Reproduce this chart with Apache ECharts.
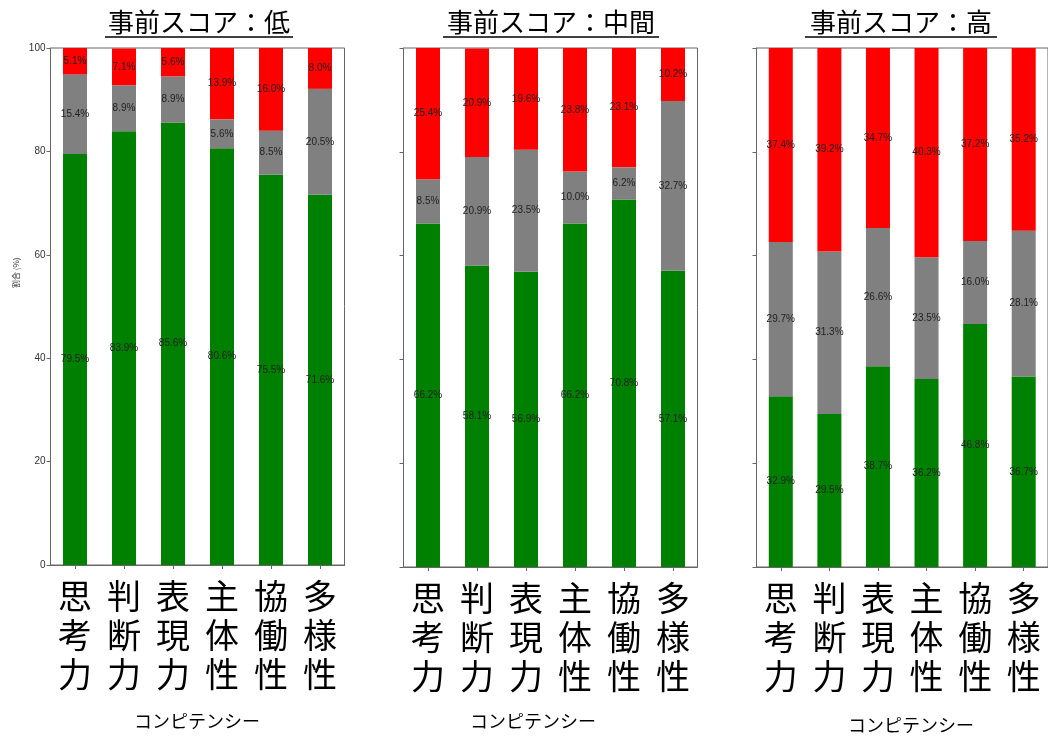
<!DOCTYPE html>
<html>
<head>
<meta charset="utf-8">
<script src="https://cdn.jsdelivr.net/npm/echarts@6/dist/echarts.min.js"></script>
<style>
html,body{margin:0;padding:0;background:#fff;}
#c{width:1048px;height:736px;}
</style>
</head>
<body>
<div id="c"></div>
<script>
const categories = ['思考力', '判断力', '表現力', '主体性', '協働性', '多様性'];
const panelTitles = ['事前スコア：低', '事前スコア：中間', '事前スコア：高'];
const xAxisTitle = 'コンピテンシー';
const yAxisTitle = '割合 (%)';
const yTicks = [0, 20, 40, 60, 80, 100];

const lowGreen = [79.5, 83.9, 85.6, 80.6, 75.5, 71.6];
const lowGray  = [15.4, 8.9, 8.9, 5.6, 8.5, 20.5];
const lowRed   = [5.1, 7.1, 5.6, 13.9, 16.0, 8.0];

const midGreen = [66.2, 58.1, 56.9, 66.2, 70.8, 57.1];
const midGray  = [8.5, 20.9, 23.5, 10.0, 6.2, 32.7];
const midRed   = [25.4, 20.9, 19.6, 23.8, 23.1, 10.2];

const highGreen = [32.9, 29.5, 38.7, 36.2, 46.8, 36.7];
const highGray  = [29.7, 31.3, 26.6, 23.5, 16.0, 28.1];
const highRed   = [37.4, 39.2, 34.7, 40.3, 37.2, 35.2];

const panels = [
  [lowGreen, lowGray, lowRed],
  [midGreen, midGray, midRed],
  [highGreen, highGray, highRed]
];
const colors = ['#008000', '#808080', '#ff0000'];

const gridLefts = [50.5, 403.5, 756.5];
const gridHeights = [517, 519, 519];
const titleCenters = [199, 551, 901];
const titleHalfWidths = [94, 108, 96];
const xNameCenters = [197, 533, 911];
const xNameTops = [712, 712, 716];

const chart = echarts.init(document.getElementById('c'), null, {renderer: 'canvas'});

const grid = [], xAxis = [], yAxis = [], series = [], graphic = [];
panels.forEach((p, i) => {
  grid.push({left: gridLefts[i], top: 48, width: 294, height: gridHeights[i],
    show: true, borderColor: '#666', borderWidth: 1, backgroundColor: 'transparent'});
  xAxis.push({type: 'category', gridIndex: i, data: categories,
    axisLine: {show: true, lineStyle: {color: '#666'}},
    axisTick: {show: true, alignWithLabel: true, length: 4, lineStyle: {color: '#666'}},
    axisLabel: {
      formatter: v => v.split('').join('\n'),
      fontFamily: 'Noto Sans CJK JP', fontSize: 34, lineHeight: 39, color: '#000', margin: 12,
      interval: 0
    }
  });
  yAxis.push({type: 'value', gridIndex: i, min: yTicks[0], max: yTicks[yTicks.length - 1], interval: 20,
    axisLine: {show: true, lineStyle: {color: '#666'}},
    axisTick: {show: true, length: 4, lineStyle: {color: '#666'}},
    splitLine: {show: false},
    axisLabel: {show: i === 0, fontSize: 10, color: '#333', fontFamily: 'Liberation Sans', margin: 5}
  });
  p.forEach((vals, k) => {
    series.push({
      type: 'bar', xAxisIndex: i, yAxisIndex: i, stack: 'p' + i,
      data: vals, barWidth: 24,
      itemStyle: {color: colors[k]},
      label: {show: true, position: 'inside', formatter: d => d.value.toFixed(1) + '%',
        color: '#222', fontSize: 10, fontFamily: 'Liberation Sans'}
    });
  });
  graphic.push({type: 'text', x: titleCenters[i], y: 9,
    style: {text: panelTitles[i], fill: '#000', font: '26px "Noto Sans CJK JP"', textAlign: 'center'}});
  graphic.push({type: 'line', shape: {x1: titleCenters[i] - titleHalfWidths[i], y1: 37, x2: titleCenters[i] + titleHalfWidths[i], y2: 37},
    style: {stroke: '#000', lineWidth: 1.5}});
  graphic.push({type: 'text', x: xNameCenters[i], y: xNameTops[i],
    style: {text: xAxisTitle, fill: '#000', font: '18px "Noto Sans CJK JP"', textAlign: 'center'}});
});
graphic.push({type: 'text', x: 12, y: 288, rotation: Math.PI / 2,
  style: {text: yAxisTitle, fill: '#333', font: '8px "Noto Sans CJK JP"', textAlign: 'left'}});

chart.setOption({
  animation: false,
  backgroundColor: '#fff',
  grid, xAxis, yAxis, series, graphic
});
</script>
</body>
</html>
